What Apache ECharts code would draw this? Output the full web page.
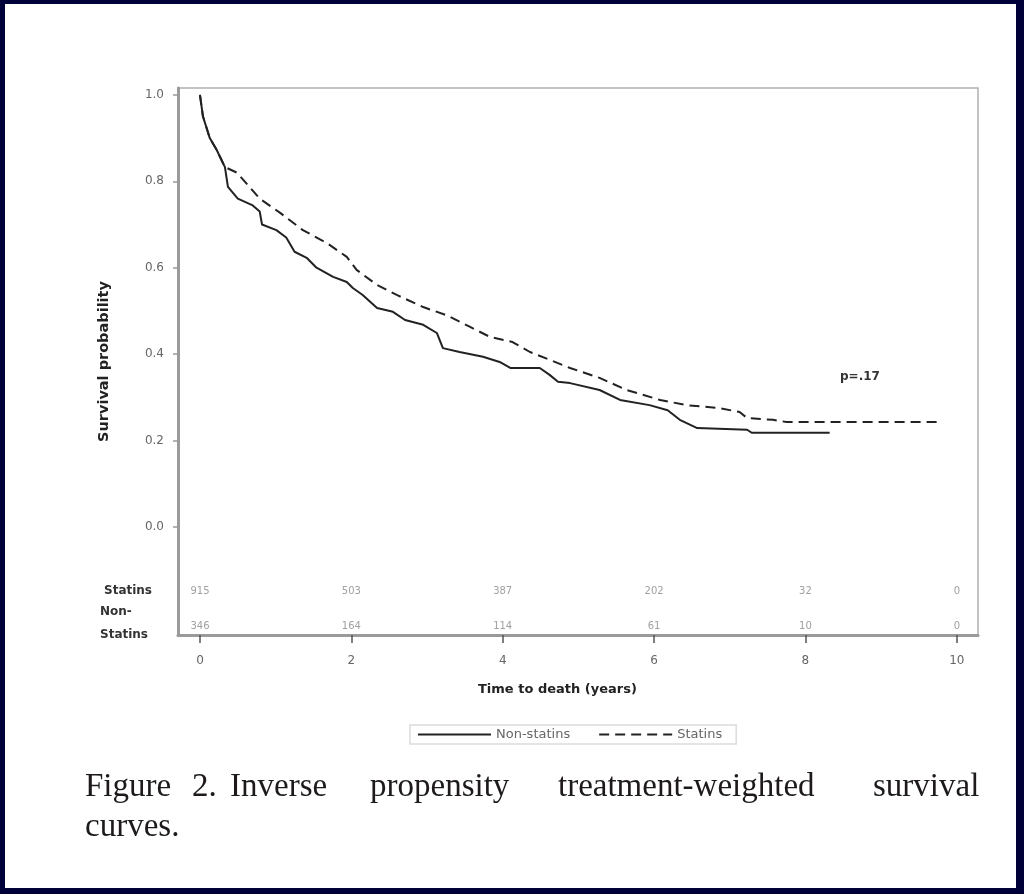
<!DOCTYPE html>
<html>
<head>
<meta charset="utf-8">
<script src="https://cdn.jsdelivr.net/npm/echarts@6/dist/echarts.min.js"></script>
<style>
  html, body { margin: 0; padding: 0; background: #000038; }
  #frame { position: absolute; left: 5px; top: 4px; right: 8px; bottom: 6px; background: #fff; overflow: hidden; }
  #chart { position: absolute; left: -5px; top: -4px; width: 1024px; height: 894px; }
</style>
</head>
<body>
<div id="frame"><div id="chart"></div></div>
<script>
// Weighted Kaplan-Meier estimates (time in years, survival probability)
const nonStatinsTime = [0, 0.04, 0.13, 0.22, 0.33, 0.37, 0.50, 0.69, 0.79, 0.82, 1.01, 1.14, 1.25, 1.41, 1.54, 1.76, 1.94, 2.02, 2.15, 2.34, 2.55, 2.71, 2.95, 3.13, 3.21, 3.43, 3.74, 3.96, 4.10, 4.49, 4.62, 4.73, 4.89, 5.28, 5.55, 5.94, 6.18, 6.34, 6.57, 7.23, 7.29, 8.32];
const nonStatinsSurv = [1.0, 0.95, 0.90, 0.873, 0.833, 0.787, 0.76, 0.745, 0.73, 0.70, 0.687, 0.67, 0.637, 0.623, 0.60, 0.579, 0.567, 0.553, 0.537, 0.507, 0.498, 0.479, 0.468, 0.449, 0.414, 0.405, 0.394, 0.382, 0.368, 0.368, 0.352, 0.336, 0.333, 0.317, 0.294, 0.282, 0.27, 0.248, 0.229, 0.225, 0.218, 0.218];
const statinsTime = [0, 0.04, 0.13, 0.22, 0.33, 0.49, 0.79, 1.06, 1.36, 1.68, 1.94, 2.07, 2.34, 2.60, 2.95, 3.26, 3.57, 3.83, 4.13, 4.36, 4.62, 4.89, 5.28, 5.64, 6.08, 6.43, 6.87, 7.13, 7.23, 7.57, 7.75, 9.74];
const statinsSurv = [1.0, 0.95, 0.90, 0.873, 0.833, 0.82, 0.76, 0.727, 0.687, 0.657, 0.625, 0.595, 0.56, 0.537, 0.509, 0.49, 0.463, 0.44, 0.428, 0.405, 0.387, 0.368, 0.345, 0.317, 0.294, 0.282, 0.275, 0.266, 0.252, 0.248, 0.243, 0.243];

// Numbers at risk
const riskTimes = [0, 2, 4, 6, 8, 10];
const statinsAtRisk = [915, 503, 387, 202, 32, 0];
const nonStatinsAtRisk = [346, 164, 114, 61, 10, 0];

// Tick values
const xTicks = [0, 2, 4, 6, 8, 10];
const yTicks = [0, 0.2, 0.4, 0.6, 0.8, 1.0];

// Vertical positions of the at-risk rows below the 0.0 line
const statinsRowY = -0.150;
const nonStatinsRowY = -0.231;

const zip = (a, b) => a.map((v, i) => [v, b[i]]);

const chart = echarts.init(document.getElementById('chart'), null, { renderer: 'canvas' });
const font = 'DejaVu Sans, Verdana, sans-serif';
const serif = 'Liberation Serif, Times New Roman, serif';

function riskSeries(values, rowY) {
  return {
    type: 'scatter',
    symbolSize: 0,
    silent: true,
    data: riskTimes.map((t, i) => ({ value: [t, rowY], n: values[i] })),
    label: {
      show: true,
      position: 'inside',
      formatter: p => String(p.data.n),
      color: '#888',
      fontSize: 10,
      fontFamily: font
    },
    z: 5
  };
}

const captionWords = [
  { text: 'Figure', x: 85 },
  { text: '2.', x: 192 },
  { text: 'Inverse', x: 230 },
  { text: 'propensity', x: 370 },
  { text: 'treatment-weighted', x: 558 },
  { text: 'survival', x: 873 }
];

chart.setOption({
  backgroundColor: 'transparent',
  animation: false,
  textStyle: { fontFamily: font },
  grid: {
    left: 178, right: 46, top: 88, bottom: 259,
    show: true, borderColor: '#b0b0b0', borderWidth: 1.5, backgroundColor: '#fff'
  },
  legend: {
    data: ['Non-statins', 'Statins'],
    left: 410, top: 725,
    itemWidth: 73, itemHeight: 10, itemGap: 28,
    padding: [3, 14, 3, 7],
    borderColor: '#dcdcdc', borderWidth: 1.5,
    itemStyle: { opacity: 0 },
    textStyle: { color: '#666', fontSize: 13, fontFamily: font }
  },
  xAxis: {
    type: 'value',
    min: -0.29, max: 10.28,
    splitLine: { show: false },
    axisLine: { onZero: false, lineStyle: { color: '#9a9a9a', width: 3 } },
    axisTick: { customValues: xTicks, length: 8, lineStyle: { color: '#555', width: 1.5 } },
    axisLabel: { customValues: xTicks, formatter: v => String(v), margin: 20, color: '#666', fontSize: 12 }
  },
  yAxis: {
    type: 'value',
    min: -0.25, max: 1.016,
    splitLine: { show: false },
    name: 'Survival probability',
    nameLocation: 'middle',
    nameRotate: 90,
    nameGap: 66,
    nameTextStyle: { color: '#222', fontSize: 14.5, fontWeight: 'bold', fontFamily: font },
    axisLine: { onZero: false, lineStyle: { color: '#9a9a9a', width: 3 } },
    axisTick: { customValues: yTicks, length: 5, lineStyle: { color: '#999', width: 1.5 } },
    axisLabel: { customValues: yTicks, formatter: v => v.toFixed(1), margin: 14, color: '#666', fontSize: 12 }
  },
  series: [
    {
      name: 'Non-statins',
      type: 'line',
      showSymbol: false,
      symbol: 'none',
      data: zip(nonStatinsTime, nonStatinsSurv),
      lineStyle: { color: '#222', width: 2 },
      itemStyle: { color: '#222' },
      z: 3
    },
    {
      name: 'Statins',
      type: 'line',
      showSymbol: false,
      symbol: 'none',
      data: zip(statinsTime, statinsSurv),
      lineStyle: { color: '#222', width: 2, type: [10, 6] },
      itemStyle: { color: '#222' },
      z: 3
    },
    riskSeries(statinsAtRisk, statinsRowY),
    riskSeries(nonStatinsAtRisk, nonStatinsRowY)
  ],
  graphic: [
    { type: 'text', left: 840, top: 371, style: { text: 'p=.17', fill: '#333', font: 'bold 12px ' + font } },
    { type: 'text', left: 104, top: 585, style: { text: 'Statins', fill: '#333', font: 'bold 12px ' + font } },
    { type: 'text', left: 100, top: 606, style: { text: 'Non-', fill: '#333', font: 'bold 12px ' + font } },
    { type: 'text', left: 100, top: 629, style: { text: 'Statins', fill: '#333', font: 'bold 12px ' + font } },
    { type: 'text', left: 478, top: 683, style: { text: 'Time to death (years)', fill: '#222', font: 'bold 13px ' + font } },
    ...captionWords.map(w => ({
      type: 'text', left: w.x, top: 771,
      style: { text: w.text, fill: '#1e1a1a', font: '33px ' + serif }
    })),
    { type: 'text', left: 85, top: 811, style: { text: 'curves.', fill: '#1e1a1a', font: '33px ' + serif } }
  ]
});
</script>
</body>
</html>
